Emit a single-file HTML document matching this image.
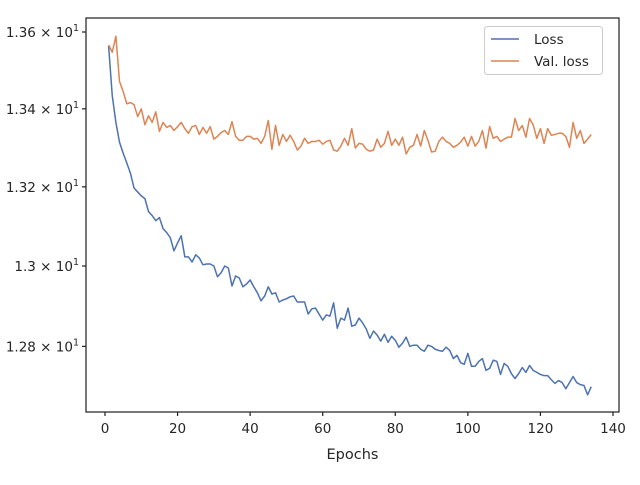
<!DOCTYPE html>
<html><head><meta charset="utf-8"><style>
body{margin:0;background:#fff;}
svg text{font-family:"DejaVu Sans","Liberation Sans",sans-serif;fill:#262626;}
</style></head><body>
<svg id="chart" width="640" height="480" xmlns="http://www.w3.org/2000/svg">
<rect x="0" y="0" width="640" height="480" fill="#fff"/>
<g id="plot"></g>
<g id="axes"></g>
</svg>
<script>
const epochs = Array.from({length:134},(_,i)=>i+1);
const lossValues = [13.563,13.434,13.365,13.314,13.286,13.261,13.235,13.197,13.187,13.177,13.170,13.137,13.127,13.114,13.122,13.094,13.084,13.071,13.038,13.058,13.076,13.023,13.023,13.010,13.028,13.020,13.003,13.005,13.005,13.000,12.973,12.983,13.000,12.995,12.950,12.975,12.970,12.948,12.955,12.965,12.948,12.933,12.913,12.925,12.948,12.930,12.933,12.910,12.915,12.918,12.923,12.925,12.910,12.910,12.910,12.880,12.893,12.895,12.880,12.865,12.878,12.875,12.908,12.845,12.870,12.865,12.895,12.850,12.853,12.870,12.858,12.843,12.820,12.838,12.828,12.813,12.830,12.810,12.825,12.815,12.798,12.808,12.823,12.800,12.803,12.803,12.793,12.788,12.803,12.800,12.793,12.790,12.788,12.798,12.790,12.770,12.778,12.760,12.756,12.783,12.751,12.751,12.763,12.770,12.741,12.746,12.766,12.763,12.731,12.758,12.751,12.733,12.721,12.733,12.748,12.736,12.753,12.741,12.736,12.731,12.728,12.728,12.718,12.709,12.716,12.711,12.696,12.711,12.726,12.711,12.706,12.704,12.681,12.701];
const valLossValues = [13.566,13.547,13.589,13.471,13.445,13.413,13.416,13.411,13.380,13.400,13.359,13.382,13.365,13.392,13.342,13.365,13.352,13.357,13.344,13.354,13.365,13.349,13.337,13.354,13.357,13.334,13.352,13.337,13.354,13.322,13.329,13.339,13.344,13.334,13.367,13.329,13.319,13.319,13.329,13.329,13.322,13.324,13.311,13.329,13.370,13.296,13.357,13.306,13.334,13.316,13.332,13.316,13.294,13.304,13.324,13.311,13.316,13.316,13.319,13.309,13.316,13.319,13.294,13.291,13.304,13.324,13.306,13.349,13.299,13.311,13.309,13.296,13.291,13.294,13.322,13.301,13.311,13.342,13.306,13.322,13.306,13.327,13.284,13.301,13.306,13.334,13.304,13.344,13.319,13.289,13.291,13.316,13.327,13.316,13.311,13.301,13.306,13.314,13.327,13.304,13.329,13.304,13.316,13.344,13.299,13.354,13.324,13.329,13.316,13.322,13.327,13.327,13.375,13.344,13.357,13.327,13.375,13.359,13.324,13.349,13.311,13.349,13.332,13.334,13.337,13.337,13.329,13.301,13.365,13.324,13.344,13.311,13.322,13.334];
const xTicks = [0,20,40,60,80,100,120,140];
const yTicks = [13.6,13.4,13.2,13.0,12.8];
const yTickMant = ["1.36","1.34","1.32","1.3","1.28"];

const NS="http://www.w3.org/2000/svg";
const L=86,R=619,T=18,B=412;
function xS(v){return 105+(v/140)*508;}
function yS(v){return 266-Math.log(v/13)*5186;}
function mk(tag,attrs,parent){const e=document.createElementNS(NS,tag);for(const k in attrs)e.setAttribute(k,attrs[k]);parent.appendChild(e);return e;}
const plot=document.getElementById('plot'), axes=document.getElementById('axes');

function series(vals,color,name){
  const d=vals.map((v,i)=>(i?'L':'M')+xS(epochs[i]).toFixed(2)+','+yS(v).toFixed(2)).join('');
  const p=mk('path',{d:d,fill:'none',stroke:color,'stroke-width':1.5,'stroke-linejoin':'round'},plot);
  
  
}
series(lossValues,'#4c72b0','loss-line');
series(valLossValues,'#dd8452','val-loss-line');

const frame=mk('rect',{x:L,y:T,width:R-L,height:B-T,fill:'none',stroke:'#262626','stroke-width':1.25},axes);



xTicks.forEach(t=>{
  const x=xS(t);
  const tk=mk('line',{x1:x,x2:x,y1:B,y2:B+4,stroke:'#262626','stroke-width':1.25},axes);
  
  
  const tx=mk('text',{x:x,y:B+21,'text-anchor':'middle','font-size':13.5},axes);
  
  
  tx.textContent=t;
});
yTicks.forEach((t,i)=>{
  const y=yS(t);
  const tk=mk('line',{x1:L-4,x2:L,y1:y,y2:y,stroke:'#262626','stroke-width':1.25},axes);
  
  
  const tx=mk('text',{x:L-7,y:y+5,'text-anchor':'end','font-size':13.5},axes);
  
  
  const a=document.createElementNS(NS,'tspan');a.textContent=yTickMant[i]+' × 10';tx.appendChild(a);
  const s=document.createElementNS(NS,'tspan');s.setAttribute('dy','-6');s.setAttribute('font-size','9.5');s.textContent='1';tx.appendChild(s);
});
const xl=mk('text',{x:(L+R)/2,y:459,'text-anchor':'middle','font-size':14.5},axes);


xl.textContent='Epochs';

const lg=mk('g',{},axes);


mk('rect',{x:484.5,y:26.5,width:118,height:48,rx:3,fill:'#fff','fill-opacity':0.8,stroke:'#cccccc'},lg);
[['Loss','#4c72b0',39],['Val. loss','#dd8452',61]].forEach(([n,c,y])=>{
  const e=mk('g',{},lg);
  
  
  mk('line',{x1:491,x2:519,y1:y,y2:y,stroke:c,'stroke-width':1.5},e);
  const t=mk('text',{x:534,y:y+5,'font-size':13.5},e);
  t.textContent=n;
});
</script>
</body></html>
